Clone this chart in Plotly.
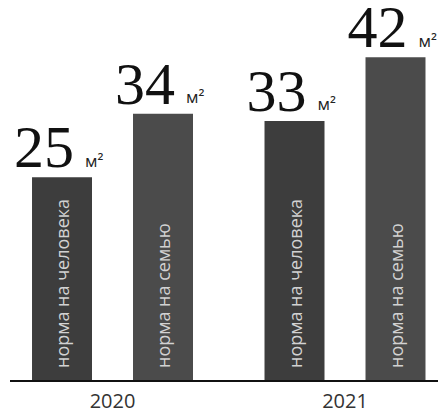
import plotly.graph_objects as go

# ---- data ----
years = ["2020", "2021"]
series_names = ["норма на человека", "норма на семью"]
per_person = [25, 33]
per_family = [34, 42]
unit = "м²"

# ---- style ----
AXIS_FLOOR = -3.7           # value at the drawn baseline
Y_TOP = 48.99
PX_PER_UNIT = 7.069         # vertical pixels per value unit
PX_PER_GROUP = 232.5        # horizontal pixels per year group
BAR_W = 0.258
CENTER_OFF = [-0.2172, 0.2172]   # bar centre offset from group centre
COLORS = ["#3d3d3d", "#4b4b4b"]
INSIDE_TXT = "#d2d2d2"
TEXT_LIFT = 9 / PX_PER_UNIT      # inside label starts a little above the baseline

group_pos = list(range(len(years)))

fig = go.Figure()
series_vals = [per_person, per_family]
for name, vals, coff, col in zip(series_names, series_vals, CENTER_OFF, COLORS):
    xs = [g + coff for g in group_pos]
    # the bar itself
    fig.add_trace(go.Bar(
        x=xs,
        y=[v - AXIS_FLOOR for v in vals],
        base=AXIS_FLOOR,
        width=BAR_W,
        marker=dict(color=col, line=dict(width=0)),
        hoverinfo="skip",
        showlegend=False,
    ))
    # transparent carrier for the vertical series label inside the bar
    fig.add_trace(go.Bar(
        x=xs,
        y=[v - AXIS_FLOOR - TEXT_LIFT for v in vals],
        base=AXIS_FLOOR + TEXT_LIFT,
        width=BAR_W,
        marker=dict(color="rgba(0,0,0,0)", line=dict(width=0)),
        text=[name] * len(vals),
        textposition="inside",
        insidetextanchor="start",
        textangle=-90,
        insidetextfont=dict(family="Open Sans", size=18, color=INSIDE_TXT),
        hoverinfo="skip",
        showlegend=False,
    ))
    # value above the bar (big serif digits)
    fig.add_trace(go.Scatter(
        x=[x + 12 / PX_PER_GROUP for x in xs],
        y=[v + 25 / PX_PER_UNIT for v in vals],
        mode="text",
        text=[str(v) for v in vals],
        textposition="middle left",
        textfont=dict(family="Liberation Serif", size=60, color="#111111"),
        hoverinfo="skip",
        showlegend=False,
        cliponaxis=False,
    ))
    # unit next to the value
    fig.add_trace(go.Scatter(
        x=[x + 23 / PX_PER_GROUP for x in xs],
        y=[v + 15 / PX_PER_UNIT for v in vals],
        mode="text",
        text=[unit] * len(vals),
        textposition="middle right",
        textfont=dict(family="Open Sans", size=17, color="#222222"),
        hoverinfo="skip",
        showlegend=False,
        cliponaxis=False,
    ))

fig.update_layout(
    width=446, height=417,
    margin=dict(l=2, r=8, t=0, b=44.5),
    paper_bgcolor="#ffffff",
    plot_bgcolor="#ffffff",
    barmode="overlay",
    showlegend=False,
    xaxis=dict(
        range=[-0.4409, 1.4344],
        tickvals=group_pos, ticktext=years,
        showline=True, linecolor="#111111", linewidth=1.5,
        showgrid=False, zeroline=False,
        ticks="", ticklabelstandoff=2,
        tickfont=dict(family="Open Sans", size=20, color="#333333"),
        fixedrange=True,
    ),
    yaxis=dict(
        range=[AXIS_FLOOR, Y_TOP],
        showticklabels=False, ticks="", showline=False,
        showgrid=False, zeroline=False,
        fixedrange=True,
    ),
)

fig.write_html("out.html")
